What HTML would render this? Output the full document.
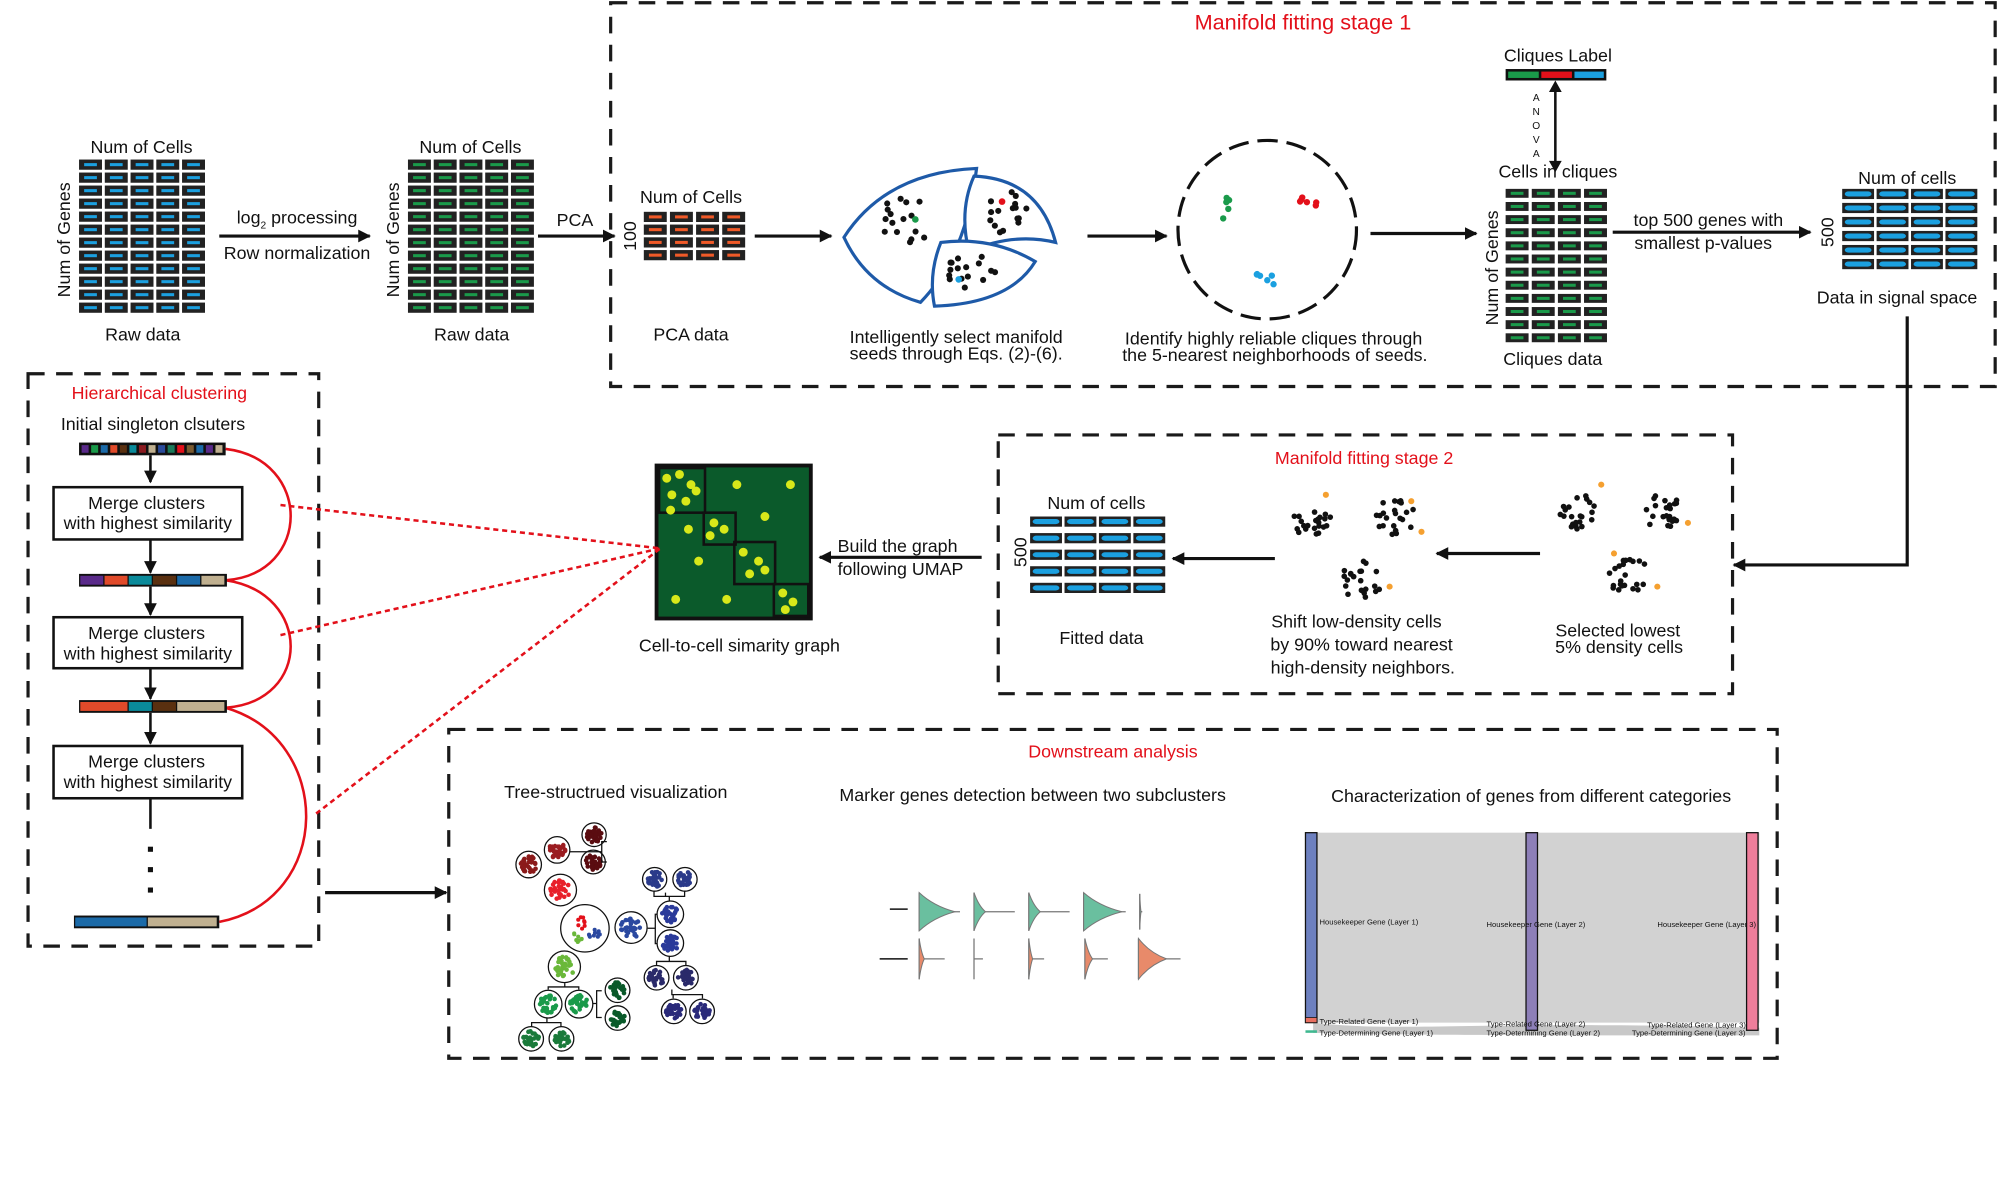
<!DOCTYPE html>
<html><head><meta charset="utf-8"><style>
html,body{margin:0;padding:0;background:#fff}
svg{display:block}
text{font-family:"Liberation Sans",Arial,sans-serif;fill:#111}
.r{fill:#e3101a}
</style></head><body>
<svg id="s" width="1999" height="1186" viewBox="0 0 1568 930" xmlns="http://www.w3.org/2000/svg">
<defs>
<marker id="ah" markerWidth="10" markerHeight="10" refX="9" refY="5" orient="auto" markerUnits="userSpaceOnUse"><path d="M0,0 L10,5 L0,10 z" fill="#111"/></marker>
</defs>
<!-- dashed boxes -->
<g fill="none" stroke="#1a1a1a" stroke-width="2.5" stroke-dasharray="13,9">
<rect x="479" y="2" width="1086" height="301"/>
<rect x="783" y="341" width="576" height="203"/>
<rect x="22" y="293" width="228" height="449"/>
<rect x="352" y="572" width="1042" height="258"/>
</g>
<text x="1022" y="23" class="r" font-size="17" text-anchor="middle">Manifold fitting stage 1</text>
<text x="1070" y="364" class="r" font-size="14" text-anchor="middle">Manifold fitting stage 2</text>
<text x="125" y="313" class="r" font-size="14" text-anchor="middle">Hierarchical clustering</text>
<text x="873" y="594" class="r" font-size="14" text-anchor="middle">Downstream analysis</text>

<g font-size="14" text-anchor="middle">
<text x="111" y="120">Num of Cells</text>
<text x="112" y="267">Raw data</text>
<text x="55" y="188" transform="rotate(-90 55 188)">Num of Genes</text>
<text x="369" y="120">Num of Cells</text>
<text x="370" y="267">Raw data</text>
<text x="313" y="188" transform="rotate(-90 313 188)">Num of Genes</text>
<text x="233" y="175">log<tspan font-size="8" dy="4">2</tspan><tspan dy="-4"> processing</tspan></text>
<text x="233" y="203">Row normalization</text>
<text x="451" y="177">PCA</text>
<text x="542" y="159">Num of Cells</text>
<text x="542" y="267">PCA data</text>
<text x="499" y="185" transform="rotate(-90 499 185)">100</text>
<text x="750" y="269">Intelligently select manifold</text>
<text x="750" y="282">seeds through Eqs. (2)-(6).</text>
<text x="999" y="270">Identify highly reliable cliques through</text>
<text x="1000" y="283">the 5-nearest neighborhoods of seeds.</text>
<text x="1222" y="48">Cliques Label</text>
<text x="1222" y="139">Cells in cliques</text>
<text x="1218" y="286">Cliques data</text>
<text x="1175" y="210" transform="rotate(-90 1175 210)">Num of Genes</text>
<text x="1340" y="177">top 500 genes with</text>
<text x="1336" y="195">smallest p-values</text>
<text x="1496" y="144">Num of cells</text>
<text x="1488" y="238">Data in signal space</text>
<text x="1438" y="182" transform="rotate(-90 1438 182)">500</text>
<text x="860" y="399">Num of cells</text>
<text x="864" y="505">Fitted data</text>
<text x="805" y="433" transform="rotate(-90 805 433)">500</text>
<text x="1064" y="492">Shift low-density cells</text>
<text x="1068" y="510">by 90% toward nearest</text>
<text x="1069" y="528">high-density neighbors.</text>
<text x="1269" y="499">Selected lowest</text>
<text x="1270" y="512">5% density cells</text>
<text x="580" y="511">Cell-to-cell simarity graph</text>
<text x="120" y="337">Initial singleton clsuters</text>
<text x="483" y="626">Tree-structrued visualization</text>
<text x="810" y="628">Marker genes detection between two subclusters</text>
<text x="1201" y="629">Characterization of genes from different categories</text>
</g>
<g font-size="14">
<text x="657" y="433">Build the graph</text>
<text x="657" y="451">following UMAP</text>
</g>
<g font-size="8" fill="#555" text-anchor="middle">
<text x="1205" y="79">A</text><text x="1205" y="90">N</text><text x="1205" y="101">O</text><text x="1205" y="112">V</text><text x="1205" y="123">A</text>
</g>

<!-- arrows -->
<g stroke="#111" stroke-width="2.5" fill="none" marker-end="url(#ah)">
<line x1="172" y1="185" x2="290" y2="185"/>
<line x1="422" y1="185" x2="482" y2="185"/>
<line x1="592" y1="185" x2="652" y2="185"/>
<line x1="853" y1="185" x2="915" y2="185"/>
<line x1="1075" y1="183" x2="1158" y2="183"/>
<line x1="1265" y1="182" x2="1420" y2="182"/>
<polyline points="1496,248 1496,443 1360,443"/>
<line x1="1000" y1="438" x2="920" y2="438"/>
<line x1="1208" y1="434" x2="1127" y2="434"/>
<line x1="770" y1="437" x2="643" y2="437"/>
<line x1="255" y1="700" x2="350" y2="700"/>
</g>
<line x1="1220" y1="70" x2="1220" y2="128" stroke="#111" stroke-width="2"/>
<path d="M1215,72 L1220,63 L1225,72z M1215,126 L1220,135 L1225,126z" fill="#111"/>
<rect x="1181" y="54" width="79" height="9" fill="#111"/>
<rect x="1183" y="56" width="24" height="5" fill="#1a9a4a"/><rect x="1209" y="56" width="24" height="5" fill="#e3101a"/><rect x="1235" y="56" width="23" height="5" fill="#1ba0e0"/>

<!-- manifold -->
<g fill="#fff" stroke="#1e5aa8" stroke-width="2.5">
<path d="M662,186 Q695,135 766,132 Q758,200 722,237 Q680,225 662,186z"/>
<path d="M764,138 Q815,140 828,190 Q795,182 760,197 Q752,165 764,138z"/>
<path d="M738,190 Q778,185 812,205 Q792,238 733,240 Q728,215 738,190z"/>
</g>
<circle cx="994" cy="180" r="70" fill="none" stroke="#111" stroke-width="2.5" stroke-dasharray="16,7"/>

<!-- graph -->
<rect x="515" y="365" width="121" height="120" fill="#0b5a2b" stroke="#111" stroke-width="3"/>
<g fill="none" stroke="#111" stroke-width="2">
<rect x="517" y="367" width="36" height="35"/><rect x="552" y="402" width="25" height="25"/><rect x="576" y="425" width="32" height="33"/><rect x="607" y="458" width="27" height="25"/>
</g>

<!-- hierarchical -->
<g stroke="#111" stroke-width="2" fill="#fff">
<line x1="118" y1="357" x2="118" y2="378" marker-end="url(#ah)"/>
<line x1="118" y1="423" x2="118" y2="449" marker-end="url(#ah)"/>
<line x1="118" y1="460" x2="118" y2="482" marker-end="url(#ah)"/>
<line x1="118" y1="524" x2="118" y2="548" marker-end="url(#ah)"/>
<line x1="118" y1="559" x2="118" y2="583" marker-end="url(#ah)"/>
<line x1="118" y1="626" x2="118" y2="650"/>
<rect x="42" y="382" width="148" height="41"/>
<rect x="42" y="484" width="148" height="40"/>
<rect x="42" y="585" width="148" height="41"/>
</g>
<g font-size="14" text-anchor="middle">
<text x="115" y="399">Merge clusters</text><text x="116" y="415">with highest similarity</text>
<text x="115" y="501">Merge clusters</text><text x="116" y="517">with highest similarity</text>
<text x="115" y="602">Merge clusters</text><text x="116" y="618">with highest similarity</text>
</g>
<g fill="#111"><rect x="116" y="664" width="4" height="4"/><rect x="116" y="680" width="4" height="4"/><rect x="116" y="696" width="4" height="4"/></g>
<g fill="none" stroke="#e3101a" stroke-width="2">
<path d="M177,352 C245,360 245,450 177,455"/>
<path d="M177,455 C245,465 245,550 177,555"/>
<path d="M177,555 C262,580 262,705 172,723"/>
</g>
<g stroke="#e3101a" stroke-width="2" stroke-dasharray="4,3">
<line x1="220" y1="396" x2="518" y2="430"/>
<line x1="220" y1="498" x2="518" y2="430"/>
<line x1="248" y1="638" x2="518" y2="430"/>
</g>

<!-- sankey -->
<rect x="1030" y="653" width="350" height="149" fill="#d2d2d2"/>
<path d="M1030,802 C1100,810 1150,800 1380,806 L1380,812 C1200,812 1100,812 1030,810z" fill="#c8c8c8"/>
<rect x="1024" y="653" width="9" height="149" fill="#6d80bf" stroke="#111" stroke-width="1"/>
<rect x="1197" y="653" width="9" height="155" fill="#8d7fb8" stroke="#111" stroke-width="1"/>
<rect x="1370" y="653" width="9" height="155" fill="#ef7e9b" stroke="#111" stroke-width="1"/>
<rect x="1024" y="798" width="9" height="4" fill="#e87060" stroke="#111" stroke-width="0.6"/>
<rect x="1024" y="808" width="9" height="2" fill="#3fb890"/>
<g font-size="6" fill="#334">
<text x="1035" y="725">Housekeeper Gene (Layer 1)</text>
<text x="1166" y="727">Housekeeper Gene (Layer 2)</text>
<text x="1300" y="727">Housekeeper Gene (Layer 3)</text>
<text x="1035" y="803">Type-Related Gene (Layer 1)</text>
<text x="1035" y="812">Type-Determining Gene (Layer 1)</text>
<text x="1166" y="805">Type-Related Gene (Layer 2)</text>
<text x="1166" y="812">Type-Determining Gene (Layer 2)</text>
<text x="1292" y="806">Type-Related Gene (Layer 3)</text>
<text x="1280" y="812">Type-Determining Gene (Layer 3)</text>
</g>
<g id="g"></g>
</svg>
<script>
(function(){
var g=document.getElementById('g'),NS='http://www.w3.org/2000/svg';
function el(t,a){var e=document.createElementNS(NS,t);for(var k in a)e.setAttribute(k,a[k]);g.appendChild(e);return e;}
var seed=1;function rnd(){var x=Math.sin(seed++*12.9898+78.233)*43758.5453;return x-Math.floor(x);}
function mat(x,y,cols,rows,cw,ch,dx,dy,col,rx){for(var r=0;r<rows;r++)for(var c=0;c<cols;c++){var X=x+c*dx,Y=y+r*dy;
 if(rx){el('rect',{x:X,y:Y,width:cw,height:ch,fill:'#222'});el('rect',{x:X+2,y:Y+2,width:cw-4,height:ch-4,rx:3,fill:col});}
 else{el('rect',{x:X,y:Y,width:cw,height:ch,fill:'#222'});el('rect',{x:X+4,y:Y+ch/2-1.2,width:cw-8,height:2.4,fill:col});}}}
mat(62,125,5,12,18,8,20.2,10.2,'#1ba0e0');
mat(320,125,5,12,18,8,20.2,10.2,'#1a9a4a');
mat(505,166,4,4,18,8,20.5,10,'#f05a28');
mat(1181,148,4,12,18,7,20.5,10.3,'#1a9a4a');
mat(1445,148,4,6,25,8,27,11,'#1ba0e0',1);
mat(808,405,4,5,25,8,27,13,'#1ba0e0',1);
function dots(cx,cy,rw,rh,n,col,r){for(var i=0;i<n;i++){var a=rnd()*6.283,d=Math.sqrt(rnd());el('circle',{cx:cx+Math.cos(a)*rw*d,cy:cy+Math.sin(a)*rh*d,r:r||2.4,fill:col});}}
dots(712,172,24,18,16,'#111');dots(788,165,18,18,16,'#111');dots(760,213,24,13,16,'#111');
el('circle',{cx:718,cy:172,r:2.6,fill:'#1a9a4a'});el('circle',{cx:786,cy:158,r:2.6,fill:'#e3101a'});el('circle',{cx:752,cy:219,r:2.6,fill:'#1ba0e0'});
dots(960,162,6,12,5,'#1a9a4a',2.5);dots(1025,160,8,6,6,'#e3101a',2.5);dots(993,218,10,6,6,'#1ba0e0',2.5);
function cl(cx,cy,o){dots(cx,cy,16,15,22,'#111',2.2);for(var i=0;i<o.length;i++)el('circle',{cx:cx+o[i][0],cy:cy+o[i][1],r:2.4,fill:'#f5a030'});}
cl(1030,408,[[10,-20]]);cl(1095,405,[[20,12],[12,-12]]);cl(1068,455,[[22,5]]);
cl(1238,402,[[18,-22]]);cl(1302,400,[[22,10]]);cl(1278,452,[[-12,-18],[22,8]]);
var gd=[[523,375],[533,372],[542,380],[527,388],[538,393],[546,385],[560,410],[568,415],[557,420],[583,433],[595,440],[588,450],[600,447],[614,465],[622,472],[616,478],[530,470],[548,440],[578,380],[620,380],[600,405],[540,415],[570,470],[526,400]];
gd.forEach(function(p){el('circle',{cx:p[0],cy:p[1],r:3.5,fill:'#d8e81a'});});
var c1=['#5a2a8a','#1a9a4a','#1b6aa8','#e04a2a','#5a3010','#0a8a9a','#8a1a20','#c0b090','#2a4a9a','#1a7a5a','#e3101a','#7a5a30','#1b6aa8','#5a2a8a','#c0b090'];
el('rect',{x:62,y:347,width:115,height:10,fill:'#111'});for(var i=0;i<15;i++)el('rect',{x:64+i*7.5,y:349,width:5.5,height:6,fill:c1[i]});
function bar(y,x0,parts){el('rect',{x:x0,y:y,width:parts.reduce(function(s,p){return s+p[0];},0)+2,height:10,fill:'#111'});var x=x0+1;parts.forEach(function(p){el('rect',{x:x,y:y+1.5,width:p[0]-1,height:7,fill:p[1]});x+=p[0];});}
bar(450,62,[[19,'#5a2a8a'],[19,'#e04a2a'],[19,'#0a8a9a'],[19,'#5a3010'],[19,'#1b6aa8'],[19,'#c0b090']]);
bar(549,62,[[38,'#e04a2a'],[19,'#0a8a9a'],[19,'#5a3010'],[38,'#c0b090']]);
bar(718,58,[[57,'#1b6aa8'],[55,'#c0b090']]);
var C=[[414.7,678,10,10.4,'#8b1a1a'],[437,666.5,10,10.4,'#9b1c20'],[466,654.6,9.5,9.3,'#5a0c10'],[465.3,676,9.5,9.3,'#5a0c10'],[439.6,698,12.6,12.4,'#e8202a'],[458.8,728,19,18.6,'mix'],[495,727.4,12.6,12.4,'#2a48a0'],[513.5,689.6,9.5,9.3,'#2a3a8a'],[537.3,689.6,9.5,9.3,'#2a3a8a'],[525.8,717,10.4,10.4,'#2a3a9a'],[525.8,739.6,10.4,10.4,'#2a3a9a'],[515,766.8,9.7,9.6,'#2a2a6a'],[538,766.8,9.7,9.6,'#2a2a6a'],[528.5,793.2,9.7,9.6,'#2a2a7a'],[550.7,793.2,9.7,9.6,'#2a2a7a'],[442.7,758.2,12.6,12.4,'#6ab83a'],[430,787.5,10.8,10.9,'#1a9a4a'],[454.2,787.5,10.8,10.9,'#1a9a4a'],[484.4,776.6,9.7,9.6,'#0a5a2a'],[484.4,798.4,9.7,9.6,'#0a5a2a'],[416.6,814.7,9.7,9.6,'#1a7a3a'],[440.4,814.7,9.7,9.6,'#1a7a3a']];
C.forEach(function(c){el('ellipse',{cx:c[0],cy:c[1],rx:c[2],ry:c[3],fill:'#fff',stroke:'#111','stroke-width':1});
 if(c[4]=='mix'){dots(c[0]-3,c[1]-4,4,5,8,'#e3101a',1.6);dots(c[0]+8,c[1]+5,5,5,10,'#2a48a0',1.6);dots(c[0]-6,c[1]+7,4,4,8,'#6ab83a',1.6);}
 else dots(c[0],c[1],c[2]*0.65,c[3]*0.65,30,c[4],1.8);});
var L='M476,660 L472,660 L472,676 L476,676 M472,668 L447,668 M522,700 L522,703 M513,699 L513,703 L537,703 L537,699 M525,703 L525,707 M515,717 L514,717 L514,740 L515,740 M514,728 L508,728 M525,750 L525,754 M515,757 L515,754 L538,754 L538,757 M527,776 L527,780 L528,780 M528,783 L528,780 L551,780 L551,783 M443,771 L443,774 M430,776 L430,774 L454,774 L454,776 M472,777 L468,777 L468,798 L472,798 M468,787 L465,787 M429,798 L429,802 M417,805 L417,802 L440,802 L440,805';
el('path',{d:L,fill:'none',stroke:'#111','stroke-width':1});
function vio(x,y,w,h,col,tail){el('line',{x1:x,y1:y,x2:x+tail,y2:y,stroke:'#777','stroke-width':1});el('line',{x1:x,y1:y-h,x2:x,y2:y+h,stroke:'#777','stroke-width':1});
 if(w>0)el('path',{d:'M'+x+','+(y-h)+' Q'+(x+w*0.4)+','+(y-h*0.3)+' '+(x+w)+','+y+' Q'+(x+w*0.4)+','+(y+h*0.3)+' '+x+','+(y+h)+'z',fill:col,stroke:'#777','stroke-width':0.8});}
el('line',{x1:698,y1:713,x2:712,y2:713,stroke:'#111','stroke-width':1.2});el('line',{x1:690,y1:752,x2:712,y2:752,stroke:'#111','stroke-width':1.2});
vio(721,715,28,15,'#6abf9f',32);vio(764,715,9,15,'#6abf9f',32);vio(807,715,9,15,'#6abf9f',32);vio(850,715,30,15,'#6abf9f',33);vio(894,715,1,14,'#6abf9f',2);
vio(721,752,4,16,'#e88a6a',20);vio(764,752,0,16,'#e88a6a',7);vio(807,752,3,16,'#e88a6a',12);vio(851,752,6,16,'#e88a6a',18);vio(893,752,22,16,'#e88a6a',33);
})();
</script>
</body></html>
